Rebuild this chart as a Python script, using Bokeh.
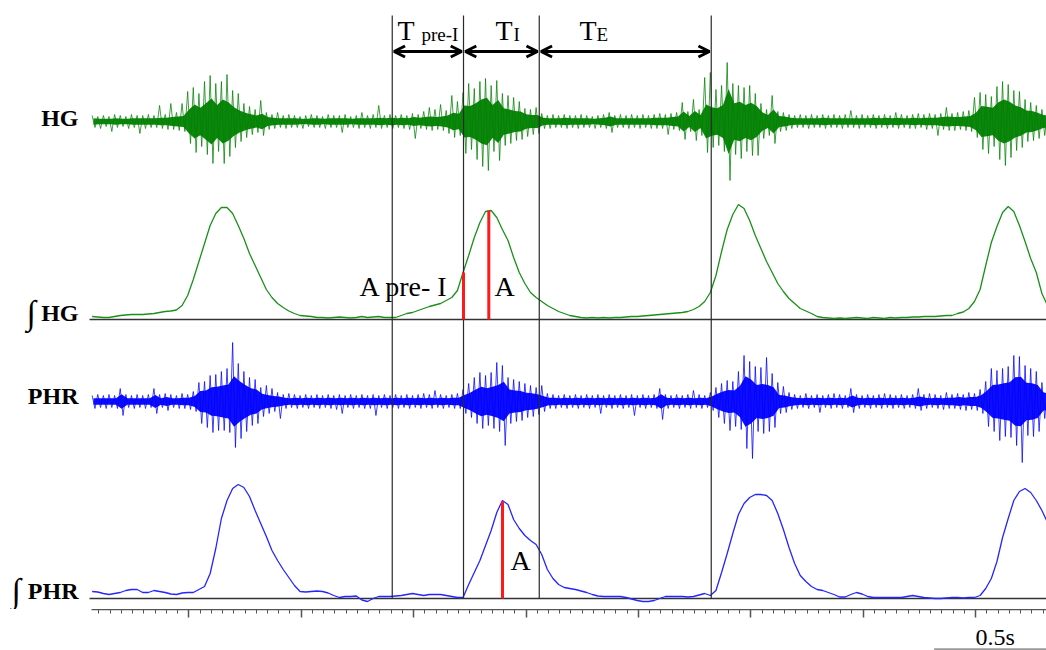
import numpy as np
from bokeh.plotting import figure
from bokeh.layouts import column
from bokeh.models import (Range1d, LinearAxis, SingleIntervalTicker, Label,
                          Arrow, OpenHead, CustomJSTickFormatter)
from bokeh.embed import file_html
from bokeh.resources import INLINE

# ---------------- data ----------------
T0 = 0.07      # time of first bin (s)
DT = 0.025     # bin width (s)

# raw HG EMG: max excursion above / below trace centre per bin (a.u.)
hg_hi = [6,5,6,5,7,6,5,7,6,6, 7,6,16,7,18,9,18,30,34,28, 40,46,38,40,47,31,28,18,15,12,
         21,9,7,9,6,7,6,5,6,7, 6,5,7,6,6,7,5,6,9,6, 7,16,6,7,6,7,6,8,7,10,
         14,12,17,11,26,20,29,38,33,40, 43,36,41,28,26,24,20,13,12,14, 8,6,7,6,7,6,6,7,6,5,
         6,7,9,6,7,6,7,6,7,6, 7,8,7,8,9,19,10,22,12,44, 49,32,36,59,38,36,34,36,28,18,
         12,26,10,9,7,6,7,6,7,6, 7,6,7,6,7,11,6,7,6,7, 6,7,6,9,7,6,7,8,7,8,
         7,8,14,8,9,10,11,24,29,27, 25,35,40,37,31,30,22,19,16,12, 11]
hg_lo = [6,7,5,10,6,5,7,6,12,7, 6,6,7,8,8,9,10,22,31,25, 33,42,30,42,35,26,20,16,13,11,
         14,8,7,6,7,6,6,7,5,6, 6,7,6,6,11,6,6,7,6,7, 6,7,6,7,6,7,8,17,7,8,
         9,8,9,12,16,14,32,28,38,45, 49,30,39,24,22,19,18,15,13,12, 7,7,6,6,7,6,7,6,6,7,
         6,7,11,6,6,7,6,7,6,7, 7,7,13,8,9,18,10,19,14,31, 26,24,30,59,33,37,30,34,34,17,
         14,22,10,9,7,6,6,7,6,6, 7,6,6,7,6,6,7,6,6,7, 6,7,6,7,6,7,7,6,8,7,
         14,8,9,9,8,9,10,16,28,32, 25,38,44,36,29,26,20,19,17,14, 12]

# raw PHR (phrenic) ENG
phr_hi = [6,7,6,7,6,13,7,6,7,6, 7,13,7,8,7,6,8,7,10,19, 20,26,27,30,33,59,38,30,24,22,
          14,16,13,9,7,8,7,6,7,6, 7,6,7,6,7,6,7,6,7,6, 7,6,7,6,7,6,7,6,7,8,
          7,11,7,6,7,8,12,18,24,29, 26,29,39,36,24,22,20,18,16,14, 16,8,7,6,7,6,7,6,7,6,
          7,6,7,6,7,6,7,6,7,6, 7,13,7,6,7,6,7,11,7,6, 9,14,18,21,20,30,46,40,35,34,
          44,28,19,15,9,7,6,8,6,7, 6,7,8,7,6,13,7,6,7,6, 7,8,7,6,7,6,7,13,7,8,
          7,6,9,7,8,7,9,8,12,20, 33,31,33,35,46,45,36,33,30,19, 14]
phr_lo = [7,6,7,6,7,14,6,7,6,7, 6,12,6,9,6,7,7,8,10,22, 26,31,29,29,31,46,37,30,24,22,
          15,12,10,17,7,6,7,6,7,6, 7,6,7,8,12,6,7,6,7,7, 14,6,7,6,7,6,7,6,7,6,
          7,6,7,6,7,7,12,16,22,27, 24,27,30,44,22,20,19,16,15,13, 10,7,7,6,7,6,7,6,7,6,
          12,6,7,6,7,6,14,6,7,6, 7,18,7,6,7,6,7,6,7,6, 9,16,22,29,25,28,47,57,30,32,
          30,26,12,11,8,7,6,7,6,11, 6,7,6,7,6,11,7,6,7,6, 7,6,7,6,7,6,7,9,7,6,
          7,8,7,7,8,9,8,9,12,25, 30,39,35,36,44,61,34,35,30,17, 14]

# integrated HG activity (a.u.)
int_hg = [3,2.5,2,2,3,4,4.5,5,5,5, 5.5,6,7,8,8.5,9.5,14,24,40,58,
          76,94,106,112,112,106,94,81,66,54, 42,30,22,16,12,8.5,6,4,3.5,3,
          2,2,1.5,2,2.5,2,1.5,2,3,2, 2.5,3,2,2,2,4,6,7,9,11,
          13,14.5,16,19,22,29,47,64,82,97, 108,109,102,90,79,62,47,36,27,22,
          18,14,11,8,6,4,3,2,1.5,2, 1.5,2,1.5,2,2,2.5,3,3,3.5,4,
          4.5,5,5.5,6,6.5,7,8,10,13,18, 27,44,68,90,105,115,111,99,84,71,
          58,47,36,28,21,16,11,8.5,6,3, 2,1.5,1,1.5,1,1.5,2,1.5,1,2,
          1.5,1,2,1.5,2,2,2.5,2.5,3,3, 3,3.5,4,4,6,7.5,11,18,30,54,
          77,93,107,113,108,94,78,61,47,26, 14]

# integrated PHR activity (a.u.)
int_phr = [7,6.5,5,4,5,6,8,9,9,6, 6,8,7,6,4.5,4,5.5,6,6,9,
           12,25,50,80,98,110,114,111,102,88, 75,62,48,38,29,21,13,7,6.5,7,
           7.5,7,5.5,3,1,2,2,2.5,-1.5,-3, 0,2,2,2,2.5,3,4,5,4,3,
           4,4,4,3,2,1,1,14,26,38, 53,68,86,98,94,79,70,63,58,54,
           44,29,20,14,11,10,9,7.5,6,4, 2.5,2,2,2,2,1,-0.5,-2,-3,-3,
           -2,0,2,2,2,2,1.5,2,3.5,5, 3,8,26,45,65,84,95,101,104,104,
           103,98,85,69,51,35,23,17,12,9, 8,6,4,1.5,1.5,4,6,4.5,2,1,
           1,1,1,1,1,2,3,2,1,0.5, 0,0,0.5,1,1,0.5,1,1,3,10,
           20,37,61,80,98,107,110,106,98,88, 76]

# phase boundaries (s): pre-I onset, I onset, E onset, next pre-I end
event_times = [1.405, 1.722, 2.059, 2.824]

# amplitude markers (time s, amplitude a.u.)
hg_amp_times = [1.722, 1.8345]
hg_amp_values = [47, 109]
phr_amp_times = [1.8955]
phr_amp_values = [97]

scale_bar_seconds = 0.5

# ---------------- layout constants ----------------
W, H = 1046, 650
TOP_H = 609
BOT_H = H - TOP_H
PX_PER_S = 224.8
X0_PX = 75.9                    # canvas x of t = 0


def px2t(px):
    return (px - X0_PX) / PX_PER_S


HG_C, INT_HG_B, PHR_C, INT_PHR_B = 121, 319, 401, 598
LINE_TOP = 15
GREEN, BLUE, RED = "#008000", "#0000ff", "#ff1a1a"
SERIF = "Liberation Serif"

xr = Range1d(px2t(0), px2t(W))

p = figure(width=W, height=TOP_H, output_backend="svg", toolbar_location=None,
           x_range=xr, y_range=Range1d(TOP_H, 0),
           x_axis_type=None, y_axis_type=None,
           min_border_left=0, min_border_right=0,
           min_border_top=0, min_border_bottom=0)
p.outline_line_color = None
p.background_fill_color = "white"
p.border_fill_color = "white"

n = len(hg_hi)
t = T0 + DT * np.arange(n)


def raw_trace(hi, lo, centre, color):
    hi = np.asarray(hi, float)
    lo = np.asarray(lo, float)
    core = 0.55 * np.minimum(hi, lo)
    p.varea(x=t + DT / 4, y1=centre - core, y2=centre + core,
            fill_color=color, fill_alpha=0.95)
    xs = np.empty(2 * n)
    ys = np.empty(2 * n)
    xs[0::2] = t
    xs[1::2] = t + DT / 2
    ys[0::2] = centre - hi
    ys[1::2] = centre + lo
    p.line(xs, ys, line_color=color, line_width=1, line_alpha=0.75)


# baselines of integrated traces
rec_start, rec_end = px2t(89), px2t(W)
p.segment(x0=[rec_start, rec_start], y0=[INT_HG_B, INT_PHR_B],
          x1=[rec_end, rec_end], y1=[INT_HG_B, INT_PHR_B],
          line_color="#333333", line_width=1.3)

raw_trace(hg_hi, hg_lo, HG_C, GREEN)
raw_trace(phr_hi, phr_lo, PHR_C, BLUE)

# integrated traces
p.line(t, INT_HG_B - np.asarray(int_hg), line_color="#1a901a", line_width=1.3)
p.line(t, INT_PHR_B - np.asarray(int_phr), line_color="#2525ff", line_width=1.3)

# phase boundary lines
p.segment(x0=event_times, y0=LINE_TOP, x1=event_times, y1=INT_PHR_B,
          line_color="#2a2a2a", line_width=1.2)

# amplitude markers
p.segment(x0=hg_amp_times, y0=INT_HG_B, x1=hg_amp_times,
          y1=INT_HG_B - np.asarray(hg_amp_values), line_color=RED, line_width=3)
p.segment(x0=phr_amp_times, y0=INT_PHR_B, x1=phr_amp_times,
          y1=INT_PHR_B - np.asarray(phr_amp_values), line_color=RED, line_width=3)

# phase duration arrows
gap = 0.008
for a, b in zip(event_times[:-1], event_times[1:]):
    p.add_layout(Arrow(start=OpenHead(size=11, line_width=3),
                       end=OpenHead(size=11, line_width=3),
                       x_start=a + gap, x_end=b - gap, y_start=51, y_end=51,
                       line_width=3, line_color="black"))


def lab(fig, x_px, y, text, size, bold=False, align="left", font=SERIF):
    fig.add_layout(Label(x=px2t(x_px), y=y, text=text, text_font=font,
                         text_font_size=f"{size}px",
                         text_font_style="bold" if bold else "normal",
                         text_align=align, text_baseline="middle",
                         text_color="black"))


# phase labels (y = vertical centre of capitals)
lab(p, 397, 30, "T", 28)
lab(p, 421, 33.5, "pre-I", 19)
lab(p, 495, 30, "T", 28)
lab(p, 513, 33.5, "I", 19)
lab(p, 579, 30, "T", 28)
lab(p, 596, 33.5, "E", 19)

# amplitude labels
lab(p, 359, 285.5, "A pre- I", 28)
lab(p, 494, 285.5, "A", 28)
lab(p, 510, 559.5, "A", 28)

# channel labels
lab(p, 78, 117, "HG", 24, bold=True, align="right")
lab(p, 78, 312.5, "HG", 24, bold=True, align="right")
lab(p, 26, 312, "\u222b", 34)
lab(p, 78, 395.5, "PHR", 24, bold=True, align="right")
lab(p, 78, 590, "PHR", 24, bold=True, align="right")
lab(p, 11, 590, "\u222b", 34)

# ---------------- bottom strip: time axis + scale bar ----------------
q = figure(width=W, height=BOT_H, output_backend="svg", toolbar_location=None,
           x_range=xr, y_range=Range1d(0, BOT_H),
           x_axis_type=None, y_axis_type=None,
           min_border_left=0, min_border_right=0,
           min_border_top=0, min_border_bottom=0)
q.outline_line_color = None
q.background_fill_color = "white"
q.border_fill_color = "white"

ax = LinearAxis(ticker=SingleIntervalTicker(interval=0.5, num_minor_ticks=10),
                bounds=(px2t(91), px2t(W)))
ax.formatter = CustomJSTickFormatter(code="return ''")
ax.axis_line_color = "#555555"
ax.axis_line_width = 1.5
ax.major_tick_out = 0
ax.major_tick_in = 8
ax.minor_tick_out = 0
ax.minor_tick_in = 4
ax.major_tick_line_color = "#555555"
ax.minor_tick_line_color = "#555555"
ax.major_tick_line_width = 1.5
ax.minor_tick_line_width = 1
ax.major_label_text_font_size = "0px"
ax.major_label_standoff = 0
q.add_layout(ax, "above")

sb_end = px2t(W)
q.segment(x0=[sb_end - scale_bar_seconds], y0=[1.2], x1=[sb_end], y1=[1.2],
          line_color="#999999", line_width=2)
lab(q, 975, 13.5, "0.5s", 24)

layout = column(p, q, spacing=0)
open("out.html", "w").write(file_html(layout, INLINE))
